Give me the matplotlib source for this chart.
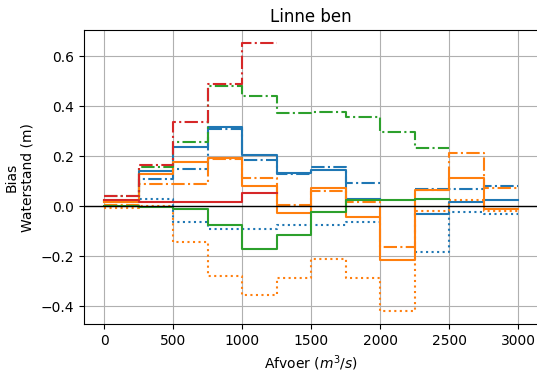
import numpy as np
import matplotlib
matplotlib.use('Agg')
import matplotlib.pyplot as plt

# bin edges of the discharge classes (m3/s)
edges = np.arange(0, 3001, 250)
nan = np.nan

# bias per discharge class, three model runs per colour (solid, dash-dot, dotted)
blue_solid = [0.02, 0.142, 0.237, 0.315, 0.204, 0.131, 0.145, 0.029, nan, -0.032, 0.018, 0.025]
blue_dashdot = [0.02, 0.11, 0.15, 0.31, 0.183, 0.127, 0.158, 0.092, nan, 0.068, 0.069, 0.082]
blue_dotted = [0.015, 0.028, -0.061, -0.09, -0.09, -0.075, -0.075, -0.064, nan, -0.183, -0.022, -0.032]

orange_solid = [0.015, 0.13, 0.175, 0.194, 0.081, -0.028, 0.074, -0.041, -0.214, 0.065, 0.114, -0.012]
orange_dashdot = [0.005, 0.089, 0.09, 0.19, 0.114, 0.003, 0.061, 0.016, -0.161, 0.065, 0.214, 0.074]
orange_dotted = [-0.008, 0.0, -0.141, -0.278, -0.353, -0.288, -0.21, -0.287, -0.417, -0.02, 0.025, -0.02]

green_solid = [0.002, -0.002, -0.012, -0.075, -0.17, -0.114, -0.022, 0.025, 0.025, 0.028, nan, nan]
green_dashdot = [0.042, 0.158, 0.257, 0.479, 0.44, 0.374, 0.377, 0.357, 0.295, 0.233, nan, nan]

red_solid = [0.023, 0.018, 0.018, 0.018, 0.052, nan, nan, nan, nan, nan, nan, nan]
red_dashdot = [0.04, 0.165, 0.338, 0.49, 0.65, nan, nan, nan, nan, nan, nan, nan]

series = [
    (blue_solid, 'C0', '-'), (blue_dashdot, 'C0', '-.'), (blue_dotted, 'C0', ':'),
    (orange_solid, 'C1', '-'), (orange_dashdot, 'C1', '-.'), (orange_dotted, 'C1', ':'),
    (green_solid, 'C2', '-'), (green_dashdot, 'C2', '-.'),
    (red_solid, 'C3', '-'), (red_dashdot, 'C3', '-.'),
]

fig = plt.figure(figsize=(5.37, 3.72), dpi=100)
ax = fig.add_axes([0.1557, 0.129, 0.848, 0.790])

for vals, col, ls in series:
    v = np.array(vals + [vals[-1]], dtype=float)
    ax.step(edges, v, where='post', color=col, linestyle=ls)

ax.axhline(0, color='k', lw=1)
ax.grid(True)
ax.set_title('Linne ben')
ax.set_xlabel('Afvoer ($m^3/s$)')
ax.set_ylabel('Bias\nWaterstand (m)')

fig.savefig('out.png', dpi=100)
